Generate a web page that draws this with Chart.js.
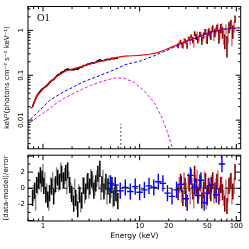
<!DOCTYPE html>
<html>
<head>
<meta charset="utf-8">
<script src="https://cdn.jsdelivr.net/npm/chart.js@4.4.1/dist/chart.umd.min.js"></script>
<style>
  html, body { margin: 0; padding: 0; background: #fff; }
  #wrap { position: relative; width: 249px; height: 249px; overflow: hidden; }
  #spec { position: absolute; left: 0; top: 0; }
  #resid { position: absolute; left: 0; top: 148px; }
  #obs { position: absolute; left: 37px; top: 13px; font: 10.5px/1 "Liberation Serif", serif; color: #000; }
</style>
</head>
<body>
<div id="wrap">
  <canvas id="spec" width="249" height="152"></canvas>
  <canvas id="resid" width="249" height="101"></canvas>
  <div id="obs">O1</div>
</div>
<script>
// axis ranges
const E_MIN = 0.71, E_MAX = 111;
const FLUX_MIN = 0.0023, FLUX_MAX = 3.4;
const RES_MIN = -4.06, RES_MAX = 4.1;
const X_LABELS = [1, 10, 20, 50, 100];

// model components
const modelE = [0.74, 0.78, 0.82, 0.86, 0.9, 1.0, 1.16, 1.4, 1.7, 2.0, 2.5, 3.0, 3.8, 4.5, 5.6, 7.0, 8.5, 10, 12.5, 15, 18, 22, 27, 33, 40, 50, 60, 73, 85, 100, 108];
const modelTotal = [0.0185, 0.0195, 0.027, 0.0334, 0.0378, 0.049, 0.069, 0.095, 0.123, 0.137, 0.157, 0.176, 0.201, 0.219, 0.246, 0.266, 0.272, 0.277, 0.294, 0.316, 0.36, 0.435, 0.52, 0.615, 0.71, 0.87, 0.96, 1.06, 1.1, 1.13, 1.14];
const modelPow = [0.0104, 0.0115, 0.0128, 0.0142, 0.0155, 0.0195, 0.0271, 0.035, 0.0445, 0.053, 0.068, 0.08, 0.097, 0.112, 0.136, 0.17, 0.19, 0.205, 0.245, 0.285, 0.34, 0.41, 0.495, 0.595, 0.695, 0.86, 0.95, 1.05, 1.09, 1.12, 1.13];
const thermE = [0.74, 0.9, 1.16, 1.4, 1.72, 2.1, 2.55, 3.1, 3.78, 4.6, 5.6, 6.9, 8.8, 11.1, 14.1, 16.5, 17.8, 19.3, 21.6, 23];
const thermFlux = [0.0088, 0.0122, 0.0178, 0.0245, 0.0322, 0.040, 0.049, 0.059, 0.069, 0.079, 0.087, 0.086, 0.069, 0.045, 0.025, 0.013, 0.0088, 0.0055, 0.0026, 0.0016];
const ironE = 6.4, ironPeak = 0.0083;

// soft band spectrum (black) and its partner (grey)
const softE = [0.78, 0.82, 0.86, 0.9, 0.94, 0.98, 1.02, 1.07, 1.12, 1.17, 1.23, 1.29, 1.35, 1.42, 1.49, 1.56, 1.64, 1.72, 1.8, 1.89, 1.98, 2.08, 2.18, 2.29, 2.4, 2.52, 2.64, 2.77, 2.91, 3.05, 3.2, 3.36, 3.52, 3.7, 3.88, 4.07, 4.27, 4.48, 4.7, 4.93, 5.17, 5.42, 5.68, 5.95];
const softFlux = [0.0198, 0.0267, 0.0339, 0.0391, 0.0448, 0.0494, 0.0525, 0.0561, 0.0607, 0.0685, 0.0767, 0.0797, 0.0907, 0.1014, 0.1059, 0.1165, 0.1211, 0.1328, 0.1379, 0.1338, 0.1327, 0.1307, 0.1384, 0.1354, 0.1494, 0.1502, 0.1647, 0.1652, 0.1779, 0.1782, 0.189, 0.1855, 0.1963, 0.2105, 0.2201, 0.2121, 0.2108, 0.2251, 0.2264, 0.2228, 0.2393, 0.2315, 0.2425, 0.2366];
const softRes = [-1.2, -0.3, 0.4, 1.0, 1.6, 1.2, 0.3, -0.8, -1.4, -0.6, 0.2, -1.0, 0.5, 1.3, 0.8, 1.8, 1.0, 1.9, 2.2, 0.4, -0.7, -1.9, -1.2, -2.6, -0.8, -1.5, 0.3, -0.4, 0.9, 0.2, 1.1, -0.3, 0.6, 1.8, 2.4, 0.5, -0.4, 0.8, 0.2, -0.9, 0.4, -1.2, -0.6, -1.6];
const greyE = [0.8, 0.84, 0.88, 0.92, 0.96, 1.0, 1.045, 1.095, 1.145, 1.2, 1.26, 1.32, 1.385, 1.455, 1.525, 1.6, 1.68, 1.76, 1.845, 1.935, 2.03, 2.13, 2.235, 2.345, 2.46, 2.58, 2.705, 2.84, 2.98, 3.125, 3.28, 3.44, 3.61, 3.79, 3.975, 4.17, 4.375, 4.59, 4.815, 5.05, 5.3, 5.55, 5.82];
const greyRes = [-0.6, -1.8, 0.2, 0.8, 0.5, 2.0, 1.0, -0.4, -1.8, 0.4, 1.0, 0.2, 1.6, 0.6, 2.2, 0.9, 1.5, 0.3, 1.1, -0.3, -1.1, 0.2, -1.7, -0.5, -2.0, 0.4, -0.9, 0.7, -0.3, 1.4, 0.6, 0.1, 1.2, 0.8, -0.5, 1.3, 0.2, -1.0, 0.6, -0.2, -1.4, 0.3, -0.8];

// broad band residuals (blue)
const blueE = [5.0, 5.6, 6.3, 7.1, 8.0, 9.0, 10.0, 11.2, 12.5, 14.0, 15.6, 17.4, 19.4, 21.6, 24.1, 27.0, 30.0, 33.5, 37.0, 40.0, 43.0, 46.5, 50.0, 55.0, 62.0, 71.0];
const blueRes = [0.6, 0.4, -0.3, 0.1, -0.4, 0.2, -0.5, -0.2, 0.3, 0.1, 0.8, 0.6, -0.6, -1.0, -0.2, 0.5, -1.3, 1.6, 0.2, -0.9, 1.0, -1.8, -0.6, 0.4, -0.8, 3.0];

// hard band, module A (dark red) and module B (light red)
const hardAE = [25, 26.5, 28, 29.5, 31, 32.5, 34, 35.5, 37, 38.5, 40, 42, 44, 46, 48, 50, 52, 54.5, 57, 60, 63, 66, 69, 72, 76, 80, 84, 88, 92, 97];
const hardAFlux = [0.456, 0.559, 0.458, 0.58, 0.459, 0.649, 0.736, 0.611, 0.851, 0.711, 0.614, 0.818, 0.597, 0.776, 0.942, 0.671, 0.933, 0.792, 1.116, 0.893, 1.131, 0.75, 1.122, 0.91, 0.6, 0.5, 1.188, 1.397, 0.977, 1.79];
const hardAErr = [0.058, 0.061, 0.064, 0.067, 0.07, 0.073, 0.076, 0.098, 0.1, 0.104, 0.107, 0.111, 0.116, 0.12, 0.125, 0.172, 0.176, 0.18, 0.186, 0.19, 0.195, 0.25, 0.255, 0.26, 0.22, 0.25, 0.33, 0.33, 0.33, 0.34];
const hardARes = [-0.5, 0.8, -1.2, 0.3, -1.8, 0.6, 1.4, -0.4, 1.8, 0.2, -0.9, 0.7, -1.5, -0.2, 0.9, -1.1, 0.3, -0.6, 1.0, -0.3, 0.8, -1.0, 0.4, -0.5, -1.9, -2.2, 0.3, 0.9, -0.4, 2.0];
const hardBE = [25.7, 27.2, 28.8, 30.3, 31.8, 33.3, 34.8, 36.3, 37.8, 39.3, 41, 43, 45, 47, 49, 51, 53, 55.5, 58.5, 61.5, 64.5, 67.5, 70.5, 74, 78, 82, 86, 90, 95];
const hardBFlux = [0.521, 0.472, 0.614, 0.551, 0.659, 0.541, 0.663, 0.511, 0.751, 0.837, 0.681, 0.812, 0.691, 0.949, 0.642, 0.905, 0.837, 1.019, 0.771, 0.998, 1.228, 0.859, 1.159, 0.735, 1.092, 0.821, 1.292, 0.774, 1.215];
const hardBErr = [0.06, 0.063, 0.066, 0.069, 0.071, 0.074, 0.077, 0.099, 0.102, 0.105, 0.109, 0.113, 0.118, 0.122, 0.127, 0.174, 0.178, 0.182, 0.188, 0.192, 0.198, 0.253, 0.258, 0.263, 0.266, 0.324, 0.329, 0.33, 0.33];
const hardBRes = [0.4, -0.8, 1.0, -0.3, 0.9, -1.0, 0.3, -1.5, 0.7, 1.3, -0.4, 0.5, -0.8, 1.1, -1.6, 0.2, -0.3, 0.6, -0.9, 0.2, 1.2, -0.6, 0.5, -1.2, 0.1, -0.8, 0.6, -1.0, 0.3];

const RES_ERR = 1;      // residuals are in units of sigma
const BIN_HALF = 1.08;  // half bin width factor for blue crosses

Chart.defaults.font.family = '"DejaVu Sans", sans-serif';
Chart.defaults.color = '#000';

function curve(xs, ys) {
  return xs.map((x, i) => ({ x: x, y: ys[i] }));
}

// vertical error bars as separate segments
function vbars(xs, ys, errs) {
  const out = [];
  xs.forEach((x, i) => {
    const e = Array.isArray(errs) ? errs[i] : errs;
    out.push({ x: x, y: ys[i] - e }, { x: x, y: ys[i] + e }, { x: x, y: null });
  });
  return out;
}

function hbars(xs, ys) {
  const out = [];
  xs.forEach((x, i) => {
    out.push({ x: x / BIN_HALF, y: ys[i] }, { x: x * BIN_HALF, y: ys[i] }, { x: x, y: null });
  });
  return out;
}

function ds(data, color, width, dash) {
  return {
    data: data,
    borderColor: color,
    borderWidth: width,
    borderDash: dash || [],
    pointRadius: 0,
    showLine: true,
    fill: false,
    tension: 0,
    spanGaps: false
  };
}

function logTicks(min, max) {
  const out = [];
  for (let d = Math.floor(Math.log10(min)); d <= Math.ceil(Math.log10(max)); d++) {
    for (let k = 1; k <= 9; k++) {
      const v = k * Math.pow(10, d);
      if (v >= min && v <= max) out.push([v, k === 1]);
    }
  }
  return out;
}

function linTicks(min, max) {
  const out = [];
  for (let v = Math.ceil(min); v <= Math.floor(max); v++) out.push([v, v % 2 === 0]);
  return out;
}

// box frame with inward ticks on all four sides
const frameTicks = {
  id: 'frameTicks',
  afterDatasetsDraw(chart) {
    const ctx = chart.ctx;
    const a = chart.chartArea;
    const xs = chart.scales.x;
    const ys = chart.scales.y;
    ctx.save();
    ctx.strokeStyle = '#000';
    ctx.lineWidth = 1;
    ctx.strokeRect(a.left, a.top, a.right - a.left, a.bottom - a.top);
    ctx.beginPath();
    logTicks(xs.min, xs.max).forEach(([v, major]) => {
      const px = xs.getPixelForValue(v);
      const len = major ? 5 : 2.5;
      ctx.moveTo(px, a.bottom);
      ctx.lineTo(px, a.bottom - len);
      ctx.moveTo(px, a.top);
      ctx.lineTo(px, a.top + len);
    });
    const yt = ys.type === 'logarithmic' ? logTicks(ys.min, ys.max) : linTicks(ys.min, ys.max);
    yt.forEach(([v, major]) => {
      const py = ys.getPixelForValue(v);
      const len = major ? 5 : 2.5;
      ctx.moveTo(a.left, py);
      ctx.lineTo(a.left + len, py);
      ctx.moveTo(a.right, py);
      ctx.lineTo(a.right - len, py);
    });
    ctx.stroke();
    ctx.restore();
  }
};

function isDecade(v) {
  const l = Math.log10(v);
  return Math.abs(l - Math.round(l)) < 1e-6;
}

function decadeLabel(v) {
  const n = Math.round(Math.log10(v));
  return n >= 0 ? String(Math.pow(10, n)) : Math.pow(10, n).toFixed(-n);
}

const tickFont = { size: 7 };
const titleFont = { size: 7 };

new Chart(document.getElementById('spec'), {
  type: 'scatter',
  data: {
    datasets: [
      ds([{ x: ironE, y: FLUX_MIN }, { x: ironE, y: ironPeak }], '#444', 1, [2, 2]),
      ds(curve(modelE, modelPow), '#0000ff', 1, [3, 2]),
      ds(curve(modelE, modelTotal), '#ff0000', 1.2),
      ds(vbars(hardAE, hardAFlux, hardAErr), '#8b0000', 1.6),
      ds(vbars(hardBE, hardBFlux, hardBErr), '#c88080', 1.6),
      ds(curve(softE, softFlux), '#000', 1.6),
      ds(curve(thermE, thermFlux), '#ff00ff', 1, [3, 2])
    ]
  },
  options: {
    responsive: false,
    animation: false,
    events: [],
    layout: { padding: { left: 0, right: 8.3, top: 6.5, bottom: 2 } },
    plugins: { legend: { display: false }, tooltip: { enabled: false } },
    scales: {
      x: { type: 'logarithmic', min: E_MIN, max: E_MAX, display: false },
      y: {
        type: 'logarithmic',
        min: FLUX_MIN,
        max: FLUX_MAX,
        position: 'left',
        afterFit(s) { s.width = 28; },
        grid: { display: false, drawTicks: false },
        border: { display: false },
        ticks: {
          autoSkip: false,
          minRotation: 90,
          maxRotation: 90,
          crossAlign: 'center',
          padding: -1,
          font: tickFont,
          callback: (v) => (isDecade(v) ? decadeLabel(v) : '')
        },
        title: {
          display: true,
          text: 'keV\u00b2(photons cm\u207b\u00b2 s\u207b\u00b9 keV\u207b\u00b9)',
          font: titleFont,
          padding: { top: 3, bottom: 0 }
        }
      }
    }
  },
  plugins: [frameTicks]
});

new Chart(document.getElementById('resid'), {
  type: 'scatter',
  data: {
    datasets: [
      ds([{ x: E_MIN, y: 0 }, { x: E_MAX, y: 0 }], '#222', 1, [4, 3]),
      ds(vbars(blueE, blueRes, RES_ERR), '#0000ff', 1.4),
      ds(hbars(blueE, blueRes), '#0000ff', 1.4),
      ds(vbars(hardAE, hardARes, RES_ERR), '#8b0000', 1.6),
      ds(vbars(hardBE, hardBRes, RES_ERR), '#c88080', 1.6),
      ds(vbars(softE, softRes, RES_ERR), '#000', 1.5),
      ds(vbars(greyE, greyRes, RES_ERR), '#8c8c8c', 1.5)
    ]
  },
  options: {
    responsive: false,
    animation: false,
    events: [],
    layout: { padding: { left: 0, right: 8.3, top: 2, bottom: 0 } },
    plugins: { legend: { display: false }, tooltip: { enabled: false } },
    scales: {
      x: {
        type: 'logarithmic',
        min: E_MIN,
        max: E_MAX,
        afterFit(s) { s.height = 28; },
        grid: { display: false, drawTicks: false },
        border: { display: false },
        ticks: {
          autoSkip: false,
          maxRotation: 0,
          padding: 1,
          font: tickFont,
          callback: (v) => {
            const hit = X_LABELS.find((l) => Math.abs(l - v) < 1e-6 * l);
            return hit !== undefined ? String(hit) : '';
          }
        },
        title: {
          display: true,
          text: 'Energy (keV)',
          font: { size: 7.5 },
          padding: { top: 0, bottom: 8.5 }
        }
      },
      y: {
        min: RES_MIN,
        max: RES_MAX,
        position: 'left',
        afterFit(s) { s.width = 28; },
        grid: { display: false, drawTicks: false },
        border: { display: false },
        ticks: {
          autoSkip: false,
          stepSize: 2,
          padding: 3,
          font: tickFont,
          callback: (v) => ([-2, 0, 2].some((t) => Math.abs(t - v) < 1e-9) ? String(Math.round(v)) : '')
        },
        title: {
          display: true,
          text: '(data-model)/error',
          font: titleFont,
          padding: { top: 2, bottom: 0 }
        }
      }
    }
  },
  plugins: [frameTicks]
});
</script>
</body>
</html>
